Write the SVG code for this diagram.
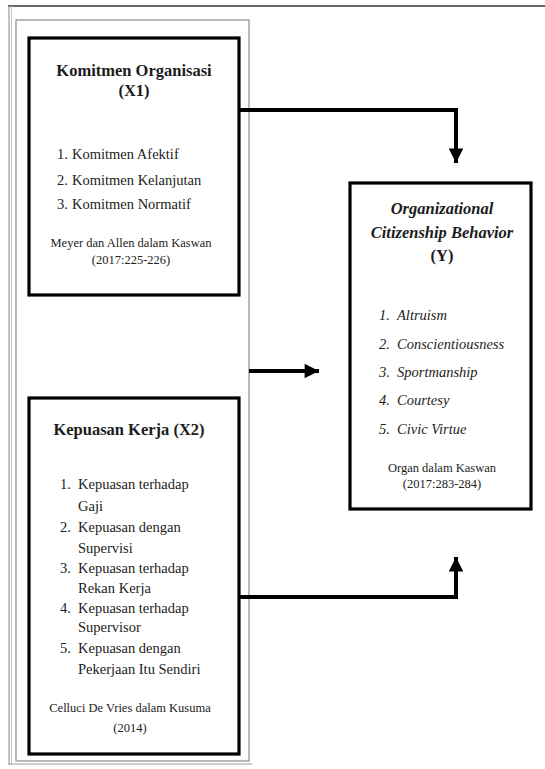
<svg xmlns="http://www.w3.org/2000/svg" width="545" height="769" viewBox="0 0 545 769">
  <defs>
    <!-- solid arrowhead shared by all connectors -->
    <marker id="arrow" viewBox="0 0 10 10" refX="10" refY="5" markerWidth="3.8" markerHeight="3.6" markerUnits="strokeWidth" orient="auto">
      <path d="M0,0 L10,5 L0,10 Z" fill="#000000"/>
    </marker>
  </defs>
  <rect width="545" height="769" fill="#ffffff"/>

  <!-- page frame -->
  <g id="frame" fill="none">
    <line x1="8" y1="6" x2="545" y2="6" stroke="#333333" stroke-width="1.6"/>
    <line x1="9" y1="6" x2="9" y2="765" stroke="#9a9a9a" stroke-width="1.2"/>
    <line x1="11.5" y1="6" x2="11.5" y2="765" stroke="#c8c8c8" stroke-width="1"/>
    <line x1="9" y1="764" x2="252" y2="764" stroke="#9a9a9a" stroke-width="1"/>
    <rect x="16" y="20" width="233" height="741" stroke="#8a8a8a" stroke-width="1.2"/>
  </g>

  <!-- connectors -->
  <g id="connectors" fill="none" stroke="#000000" stroke-width="4">
    <polyline points="239,110 456,110 456,163" marker-end="url(#arrow)"/>
    <line x1="249" y1="371" x2="319" y2="371" marker-end="url(#arrow)"/>
    <polyline points="239,597 456,597 456,557" marker-end="url(#arrow)"/>
  </g>

  <!-- Komitmen Organisasi (X1) -->
  <g id="node-x1">
    <rect x="29" y="38" width="210" height="257" fill="#ffffff" stroke="#000000" stroke-width="3.2"/>
    <text style="font-family:'Liberation Serif',serif;font-size:16.5px;font-weight:bold" text-anchor="middle" fill="#1c1c1c" x="134" y="76">Komitmen Organisasi</text>
    <text style="font-family:'Liberation Serif',serif;font-size:16.5px;font-weight:bold" text-anchor="middle" fill="#1c1c1c" x="134" y="96">(X1)</text>
    <text style="font-family:'Liberation Serif',serif;font-size:14.5px" fill="#222222" x="57" y="159">1.</text>
    <text style="font-family:'Liberation Serif',serif;font-size:14.5px" fill="#222222" x="72" y="159">Komitmen Afektif</text>
    <text style="font-family:'Liberation Serif',serif;font-size:14.5px" fill="#222222" x="57" y="185">2.</text>
    <text style="font-family:'Liberation Serif',serif;font-size:14.5px" fill="#222222" x="72" y="185">Komitmen Kelanjutan</text>
    <text style="font-family:'Liberation Serif',serif;font-size:14.5px" fill="#222222" x="57" y="209">3.</text>
    <text style="font-family:'Liberation Serif',serif;font-size:14.5px" fill="#222222" x="72" y="209">Komitmen Normatif</text>
    <text style="font-family:'Liberation Serif',serif;font-size:12.5px" text-anchor="middle" fill="#222222" x="131" y="247">Meyer dan Allen dalam Kaswan</text>
    <text style="font-family:'Liberation Serif',serif;font-size:12.5px" text-anchor="middle" fill="#222222" x="131" y="264">(2017:225-226)</text>
  </g>

  <!-- Kepuasan Kerja (X2) -->
  <g id="node-x2">
    <rect x="29" y="398" width="210" height="356" fill="#ffffff" stroke="#000000" stroke-width="3.2"/>
    <text style="font-family:'Liberation Serif',serif;font-size:16.5px;font-weight:bold" text-anchor="middle" fill="#1c1c1c" x="129" y="435">Kepuasan Kerja (X2)</text>
    <text style="font-family:'Liberation Serif',serif;font-size:14.5px" fill="#222222" x="60" y="489">1.</text>
    <text style="font-family:'Liberation Serif',serif;font-size:14.5px" fill="#222222" x="78" y="489">Kepuasan terhadap</text>
    <text style="font-family:'Liberation Serif',serif;font-size:14.5px" fill="#222222" x="78" y="511">Gaji</text>
    <text style="font-family:'Liberation Serif',serif;font-size:14.5px" fill="#222222" x="60" y="532">2.</text>
    <text style="font-family:'Liberation Serif',serif;font-size:14.5px" fill="#222222" x="78" y="532">Kepuasan dengan</text>
    <text style="font-family:'Liberation Serif',serif;font-size:14.5px" fill="#222222" x="78" y="553">Supervisi</text>
    <text style="font-family:'Liberation Serif',serif;font-size:14.5px" fill="#222222" x="60" y="573">3.</text>
    <text style="font-family:'Liberation Serif',serif;font-size:14.5px" fill="#222222" x="78" y="573">Kepuasan terhadap</text>
    <text style="font-family:'Liberation Serif',serif;font-size:14.5px" fill="#222222" x="78" y="593">Rekan Kerja</text>
    <text style="font-family:'Liberation Serif',serif;font-size:14.5px" fill="#222222" x="60" y="613">4.</text>
    <text style="font-family:'Liberation Serif',serif;font-size:14.5px" fill="#222222" x="78" y="613">Kepuasan terhadap</text>
    <text style="font-family:'Liberation Serif',serif;font-size:14.5px" fill="#222222" x="78" y="632">Supervisor</text>
    <text style="font-family:'Liberation Serif',serif;font-size:14.5px" fill="#222222" x="60" y="653">5.</text>
    <text style="font-family:'Liberation Serif',serif;font-size:14.5px" fill="#222222" x="78" y="653">Kepuasan dengan</text>
    <text style="font-family:'Liberation Serif',serif;font-size:14.5px" fill="#222222" x="78" y="674">Pekerjaan Itu Sendiri</text>
    <text style="font-family:'Liberation Serif',serif;font-size:12.5px" text-anchor="middle" fill="#222222" x="130" y="712">Celluci De Vries dalam Kusuma</text>
    <text style="font-family:'Liberation Serif',serif;font-size:12.5px" text-anchor="middle" fill="#222222" x="130" y="732">(2014)</text>
  </g>

  <!-- Organizational Citizenship Behavior (Y) -->
  <g id="node-y">
    <rect x="350" y="183" width="181" height="326" fill="#ffffff" stroke="#000000" stroke-width="3.2"/>
    <text style="font-family:'Liberation Serif',serif;font-size:16.5px;font-weight:bold;font-style:italic" text-anchor="middle" fill="#1c1c1c" x="442" y="214">Organizational</text>
    <text style="font-family:'Liberation Serif',serif;font-size:16.5px;font-weight:bold;font-style:italic" text-anchor="middle" fill="#1c1c1c" x="442" y="238">Citizenship Behavior</text>
    <text style="font-family:'Liberation Serif',serif;font-size:16.5px;font-weight:bold" text-anchor="middle" fill="#1c1c1c" x="442" y="261">(Y)</text>
    <text style="font-family:'Liberation Serif',serif;font-size:14.5px;font-style:italic" fill="#222222" x="379" y="320">1.</text>
    <text style="font-family:'Liberation Serif',serif;font-size:14.5px;font-style:italic" fill="#222222" x="397" y="320">Altruism</text>
    <text style="font-family:'Liberation Serif',serif;font-size:14.5px;font-style:italic" fill="#222222" x="379" y="349">2.</text>
    <text style="font-family:'Liberation Serif',serif;font-size:14.5px;font-style:italic" fill="#222222" x="397" y="349">Conscientiousness</text>
    <text style="font-family:'Liberation Serif',serif;font-size:14.5px;font-style:italic" fill="#222222" x="379" y="377">3.</text>
    <text style="font-family:'Liberation Serif',serif;font-size:14.5px;font-style:italic" fill="#222222" x="397" y="377">Sportmanship</text>
    <text style="font-family:'Liberation Serif',serif;font-size:14.5px;font-style:italic" fill="#222222" x="379" y="405">4.</text>
    <text style="font-family:'Liberation Serif',serif;font-size:14.5px;font-style:italic" fill="#222222" x="397" y="405">Courtesy</text>
    <text style="font-family:'Liberation Serif',serif;font-size:14.5px;font-style:italic" fill="#222222" x="379" y="434">5.</text>
    <text style="font-family:'Liberation Serif',serif;font-size:14.5px;font-style:italic" fill="#222222" x="397" y="434">Civic Virtue</text>
    <text style="font-family:'Liberation Serif',serif;font-size:12.5px" text-anchor="middle" fill="#222222" x="442" y="472">Organ dalam Kaswan</text>
    <text style="font-family:'Liberation Serif',serif;font-size:12.5px" text-anchor="middle" fill="#222222" x="442" y="488">(2017:283-284)</text>
  </g>
</svg>
